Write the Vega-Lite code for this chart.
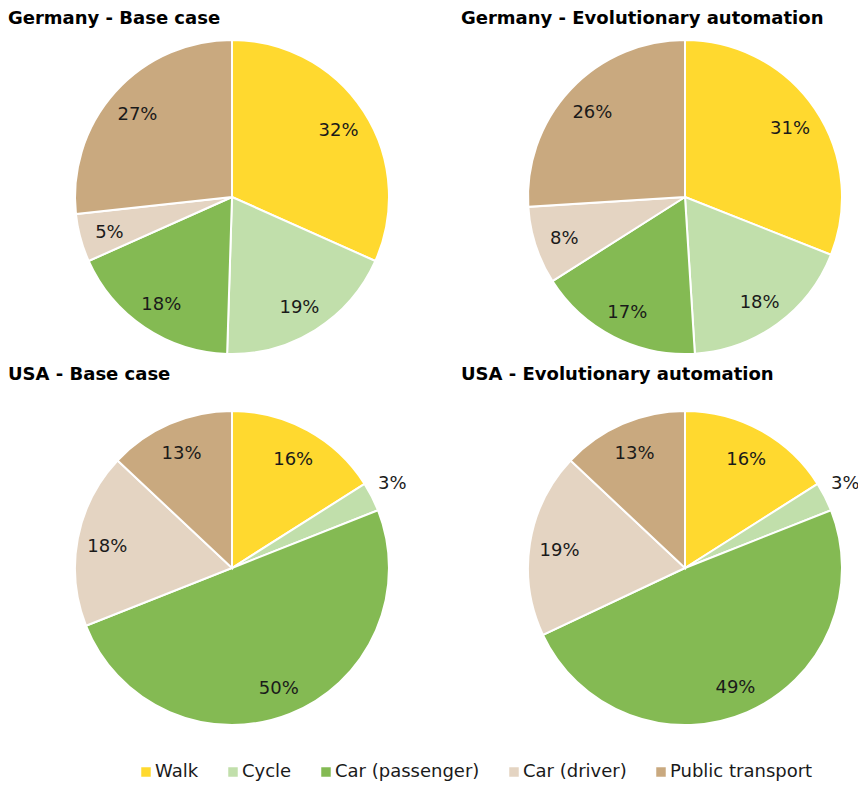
{
  "$schema": "https://vega.github.io/schema/vega-lite/v6.json",
  "padding": {"left": 8, "top": 10, "right": 0, "bottom": 0},
  "background": "white",
  "data": {
    "values": [
      {"panel": "Germany - Base case", "mode": "Walk", "k": 1, "value": 32},
      {"panel": "Germany - Base case", "mode": "Cycle", "k": 2, "value": 19},
      {"panel": "Germany - Base case", "mode": "Car (passenger)", "k": 3, "value": 18},
      {"panel": "Germany - Base case", "mode": "Car (driver)", "k": 4, "value": 5},
      {"panel": "Germany - Base case", "mode": "Public transport", "k": 5, "value": 27},
      {"panel": "Germany - Evolutionary automation", "mode": "Walk", "k": 1, "value": 31},
      {"panel": "Germany - Evolutionary automation", "mode": "Cycle", "k": 2, "value": 18},
      {"panel": "Germany - Evolutionary automation", "mode": "Car (passenger)", "k": 3, "value": 17},
      {"panel": "Germany - Evolutionary automation", "mode": "Car (driver)", "k": 4, "value": 8},
      {"panel": "Germany - Evolutionary automation", "mode": "Public transport", "k": 5, "value": 26},
      {"panel": "USA - Base case", "mode": "Walk", "k": 1, "value": 16},
      {"panel": "USA - Base case", "mode": "Cycle", "k": 2, "value": 3},
      {"panel": "USA - Base case", "mode": "Car (passenger)", "k": 3, "value": 50},
      {"panel": "USA - Base case", "mode": "Car (driver)", "k": 4, "value": 18},
      {"panel": "USA - Base case", "mode": "Public transport", "k": 5, "value": 13},
      {"panel": "USA - Evolutionary automation", "mode": "Walk", "k": 1, "value": 16},
      {"panel": "USA - Evolutionary automation", "mode": "Cycle", "k": 2, "value": 3},
      {"panel": "USA - Evolutionary automation", "mode": "Car (passenger)", "k": 3, "value": 49},
      {"panel": "USA - Evolutionary automation", "mode": "Car (driver)", "k": 4, "value": 19},
      {"panel": "USA - Evolutionary automation", "mode": "Public transport", "k": 5, "value": 13}
    ]
  },
  "transform": [{"calculate": "datum.value + '%'", "as": "label"}],
  "columns": 2,
  "bounds": "flush",
  "spacing": {"column": 139, "row": 57},
  "resolve": {"scale": {"theta": "independent"}},
  "concat": [
    {
      "title": {"text": "Germany - Base case"},
      "transform": [{"filter": "datum.panel == 'Germany - Base case'"}],
      "width": 314, "height": 314,
      "encoding": {
        "theta": {"field": "value", "type": "quantitative", "stack": true},
        "order": {"field": "k", "type": "ordinal"},
        "color": {"field": "mode", "type": "nominal", "scale": {"domain": ["Walk", "Cycle", "Car (passenger)", "Car (driver)", "Public transport"], "range": ["#FFD92F", "#C1DFAB", "#84BA53", "#E4D4C2", "#C9A97F"]}}
      },
      "layer": [
        {"mark": {"type": "arc", "outerRadius": 157, "stroke": "white", "strokeWidth": 2}},
        {"mark": {"type": "text", "radius": 127, "dy": 3}, "encoding": {"text": {"condition": {"test": "datum.value < 4", "value": ""}, "field": "label"}, "color": {"value": "#1a1a1a"}}},
        {"mark": {"type": "text", "radius": 180, "dy": -2}, "encoding": {"text": {"condition": {"test": "datum.value >= 4", "value": ""}, "field": "label"}, "color": {"value": "#1a1a1a"}}}
      ]
    },
    {
      "title": {"text": "Germany - Evolutionary automation"},
      "transform": [{"filter": "datum.panel == 'Germany - Evolutionary automation'"}],
      "width": 314, "height": 314,
      "encoding": {
        "theta": {"field": "value", "type": "quantitative", "stack": true},
        "order": {"field": "k", "type": "ordinal"},
        "color": {"field": "mode", "type": "nominal", "scale": {"domain": ["Walk", "Cycle", "Car (passenger)", "Car (driver)", "Public transport"], "range": ["#FFD92F", "#C1DFAB", "#84BA53", "#E4D4C2", "#C9A97F"]}}
      },
      "layer": [
        {"mark": {"type": "arc", "outerRadius": 157, "stroke": "white", "strokeWidth": 2}},
        {"mark": {"type": "text", "radius": 127, "dy": 3}, "encoding": {"text": {"condition": {"test": "datum.value < 4", "value": ""}, "field": "label"}, "color": {"value": "#1a1a1a"}}},
        {"mark": {"type": "text", "radius": 180, "dy": -2}, "encoding": {"text": {"condition": {"test": "datum.value >= 4", "value": ""}, "field": "label"}, "color": {"value": "#1a1a1a"}}}
      ]
    },
    {
      "title": {"text": "USA - Base case"},
      "transform": [{"filter": "datum.panel == 'USA - Base case'"}],
      "width": 314, "height": 314,
      "encoding": {
        "theta": {"field": "value", "type": "quantitative", "stack": true},
        "order": {"field": "k", "type": "ordinal"},
        "color": {"field": "mode", "type": "nominal", "scale": {"domain": ["Walk", "Cycle", "Car (passenger)", "Car (driver)", "Public transport"], "range": ["#FFD92F", "#C1DFAB", "#84BA53", "#E4D4C2", "#C9A97F"]}}
      },
      "layer": [
        {"mark": {"type": "arc", "outerRadius": 157, "stroke": "white", "strokeWidth": 2}},
        {"mark": {"type": "text", "radius": 127, "dy": 3}, "encoding": {"text": {"condition": {"test": "datum.value < 4", "value": ""}, "field": "label"}, "color": {"value": "#1a1a1a"}}},
        {"mark": {"type": "text", "radius": 180, "dy": -2}, "encoding": {"text": {"condition": {"test": "datum.value >= 4", "value": ""}, "field": "label"}, "color": {"value": "#1a1a1a"}}}
      ]
    },
    {
      "title": {"text": "USA - Evolutionary automation"},
      "transform": [{"filter": "datum.panel == 'USA - Evolutionary automation'"}],
      "width": 314, "height": 314,
      "encoding": {
        "theta": {"field": "value", "type": "quantitative", "stack": true},
        "order": {"field": "k", "type": "ordinal"},
        "color": {"field": "mode", "type": "nominal", "scale": {"domain": ["Walk", "Cycle", "Car (passenger)", "Car (driver)", "Public transport"], "range": ["#FFD92F", "#C1DFAB", "#84BA53", "#E4D4C2", "#C9A97F"]}}
      },
      "layer": [
        {"mark": {"type": "arc", "outerRadius": 157, "stroke": "white", "strokeWidth": 2}},
        {"mark": {"type": "text", "radius": 127, "dy": 3}, "encoding": {"text": {"condition": {"test": "datum.value < 4", "value": ""}, "field": "label"}, "color": {"value": "#1a1a1a"}}},
        {"mark": {"type": "text", "radius": 180, "dy": -2}, "encoding": {"text": {"condition": {"test": "datum.value >= 4", "value": ""}, "field": "label"}, "color": {"value": "#1a1a1a"}}}
      ]
    }
  ],
  "config": {
    "view": {"stroke": null},
    "font": "DejaVu Sans",
    "text": {"font": "DejaVu Sans", "fontSize": 18},
    "title": {"anchor": "start", "frame": "group", "dx": -67, "font": "DejaVu Sans", "fontSize": 18, "fontWeight": "bold", "color": "#000000", "offset": 8},
    "legend": {
      "orient": "none",
      "legendX": 62,
      "legendY": 723,
      "direction": "horizontal",
      "title": null,
      "symbolType": "square",
      "symbolSize": 90,
      "symbolStrokeWidth": 0,
      "labelFont": "DejaVu Sans",
      "labelFontSize": 18,
      "labelColor": "#1a1a1a",
      "columnPadding": 25,
      "labelOffset": 0,
      "labelLimit": 300
    }
  }
}
